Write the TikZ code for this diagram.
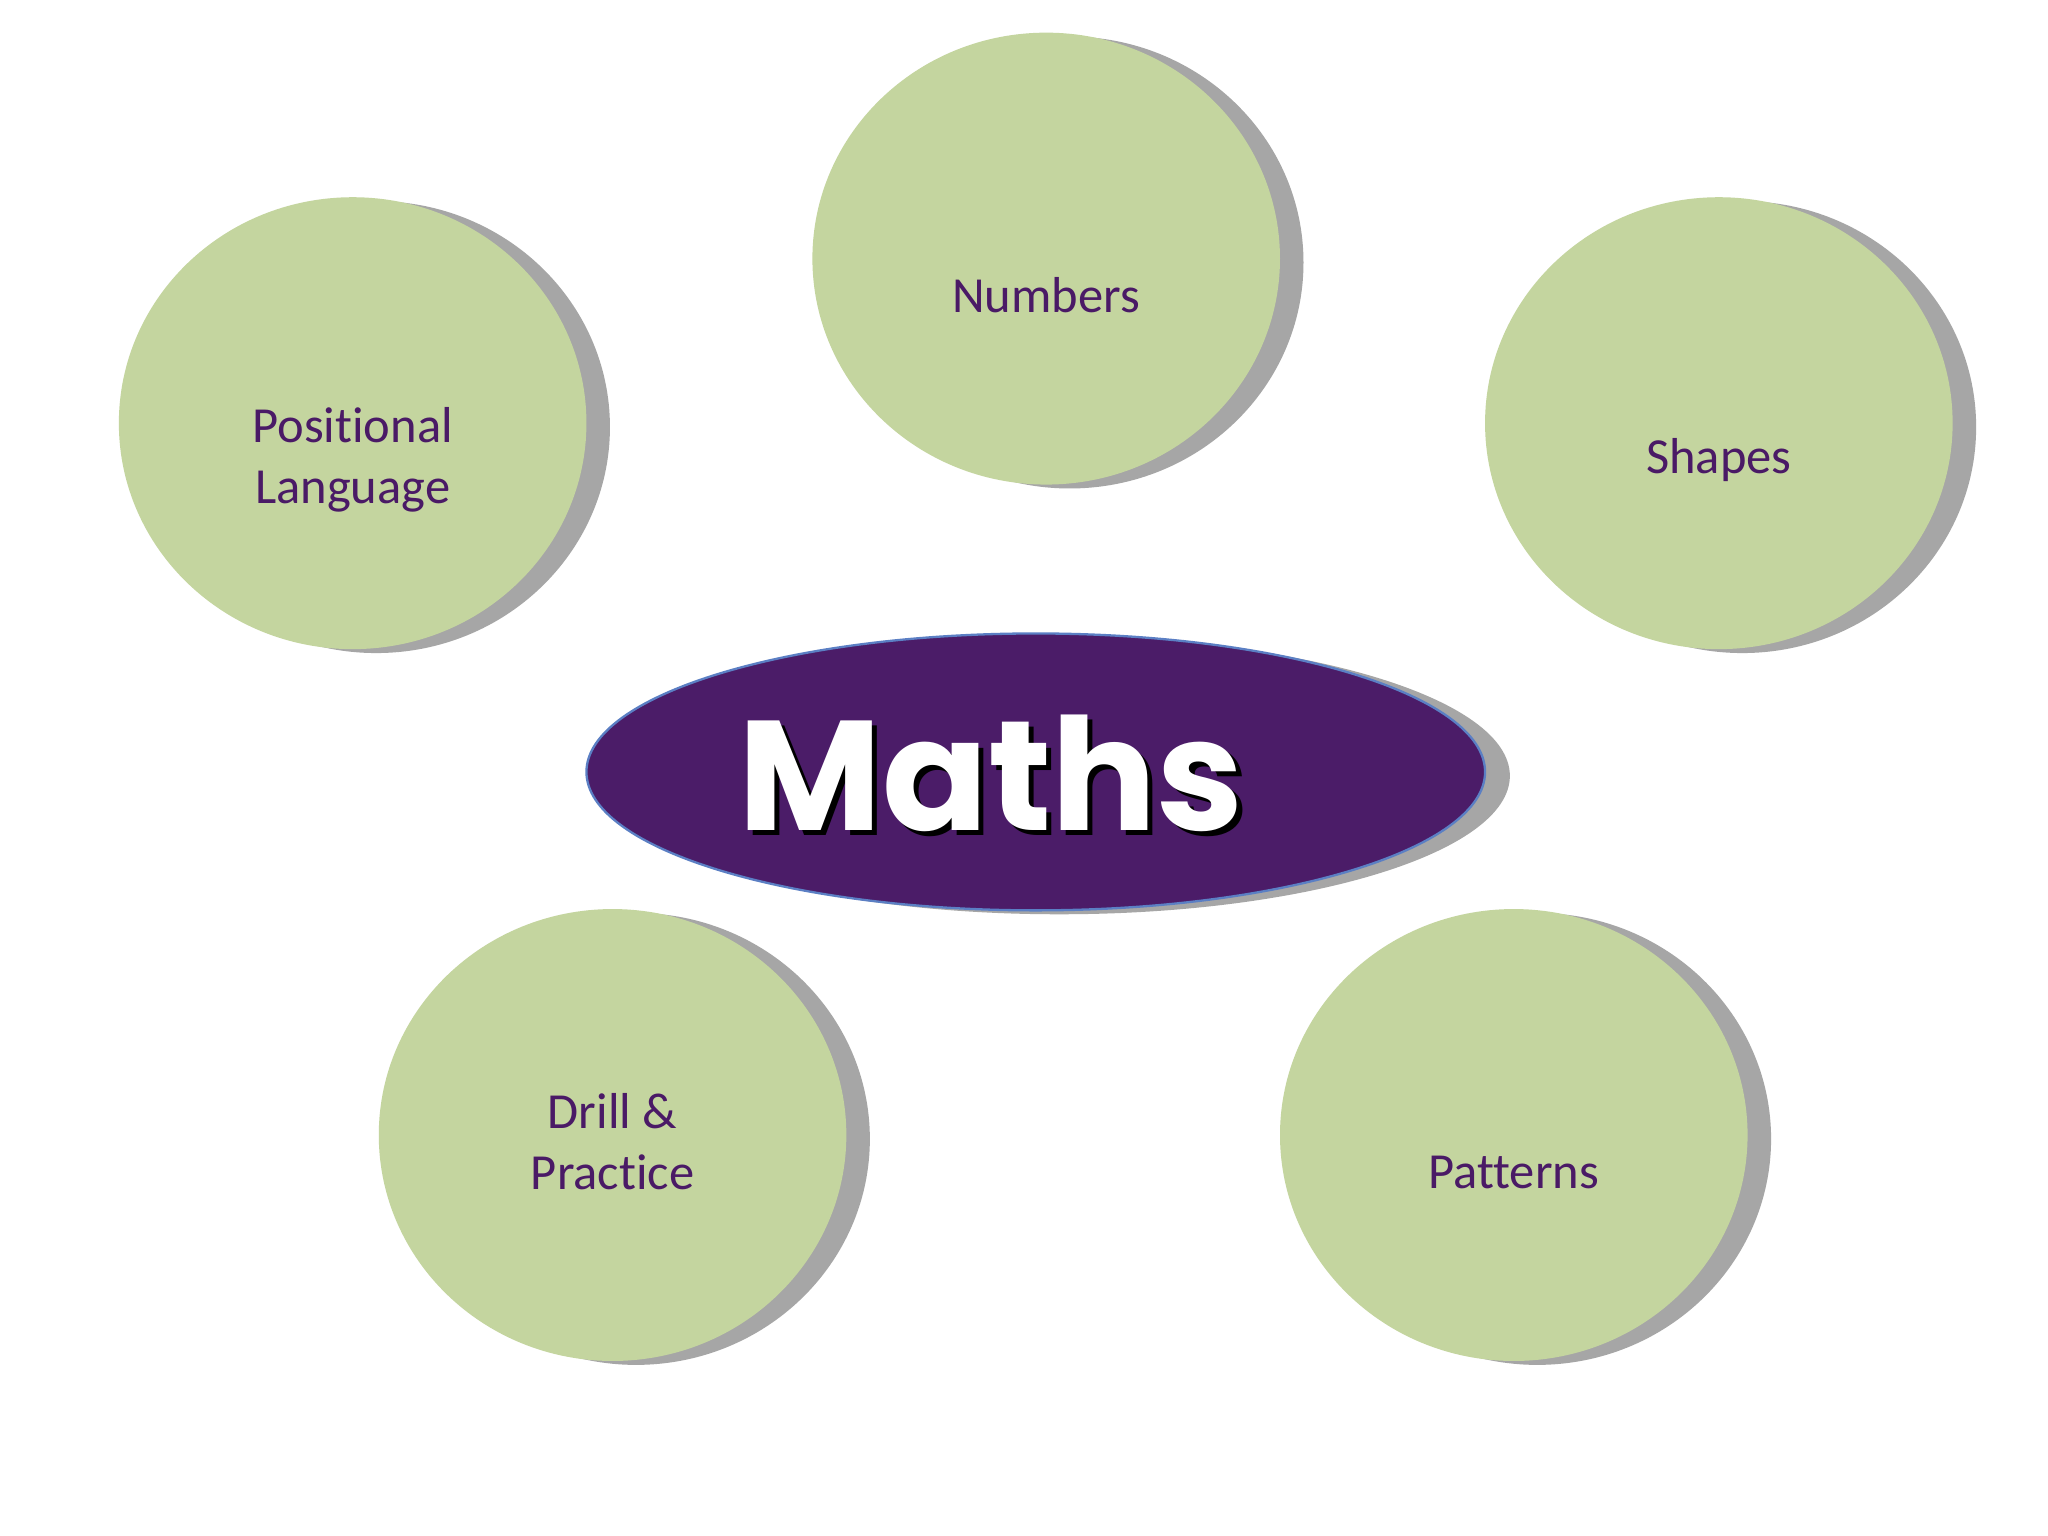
\documentclass[tikz,border=0pt]{standalone}
\usepackage{fontspec}
\setmainfont{Carlito}[Ligatures=CommonOff]
\newfontfamily\mathsfont{Poppins}
\definecolor{bubble}{HTML}{C4D59F}
\definecolor{shade}{HTML}{A6A6A6}
\definecolor{plum}{HTML}{4A1A66}
\definecolor{hub}{HTML}{4B1C68}
\definecolor{rim}{HTML}{5B7FC4}
\tikzset{
  bubble/.style={fill=bubble},
  bshadow/.style={fill=shade},
  label/.style={text=plum, font=\fontsize{11}{13.4}\selectfont, align=center},
}
\begin{document}
\begin{tikzpicture}[x=0.01cm,y=-0.01cm]
\useasboundingbox[fill=white] (0,0) rectangle (1568,1176);
% circles: shadow then fill
\foreach \cx/\cy in {801/198, 270/324, 1316/324, 469/869, 1159/869}{
  \fill[bshadow] (\cx+18,\cy+3) ellipse [x radius=179, y radius=173];
  \fill[bubble] (\cx,\cy) ellipse [x radius=179, y radius=173];
}
% central ellipse
\fill[bshadow] (811,594) ellipse [x radius=345, y radius=106];
\filldraw[fill=hub, draw=rim, line width=0.5pt] (793,591) ellipse [x radius=344, y radius=106];
\coordinate (hubc) at (793,591);
\node (mathsshadow) at (763,596) {\mathsfont\bfseries\fontsize{34}{40}\selectfont\color{black}Maths};
\node (maths) at (759,592) {\mathsfont\bfseries\fontsize{34}{40}\selectfont\color{white}Maths};
% labels
\node[label] (numbers) at (801,226) {Numbers};
\node[label] (positional) at (270,352) {Positional\\Language};
\node[label] (shapes) at (1316,352) {Shapes};
\node[label] (drill) at (469,874) {Drill \&\\Practice};
\node[label] (patterns) at (1159,898) {Patterns};
\end{tikzpicture}
\end{document}
